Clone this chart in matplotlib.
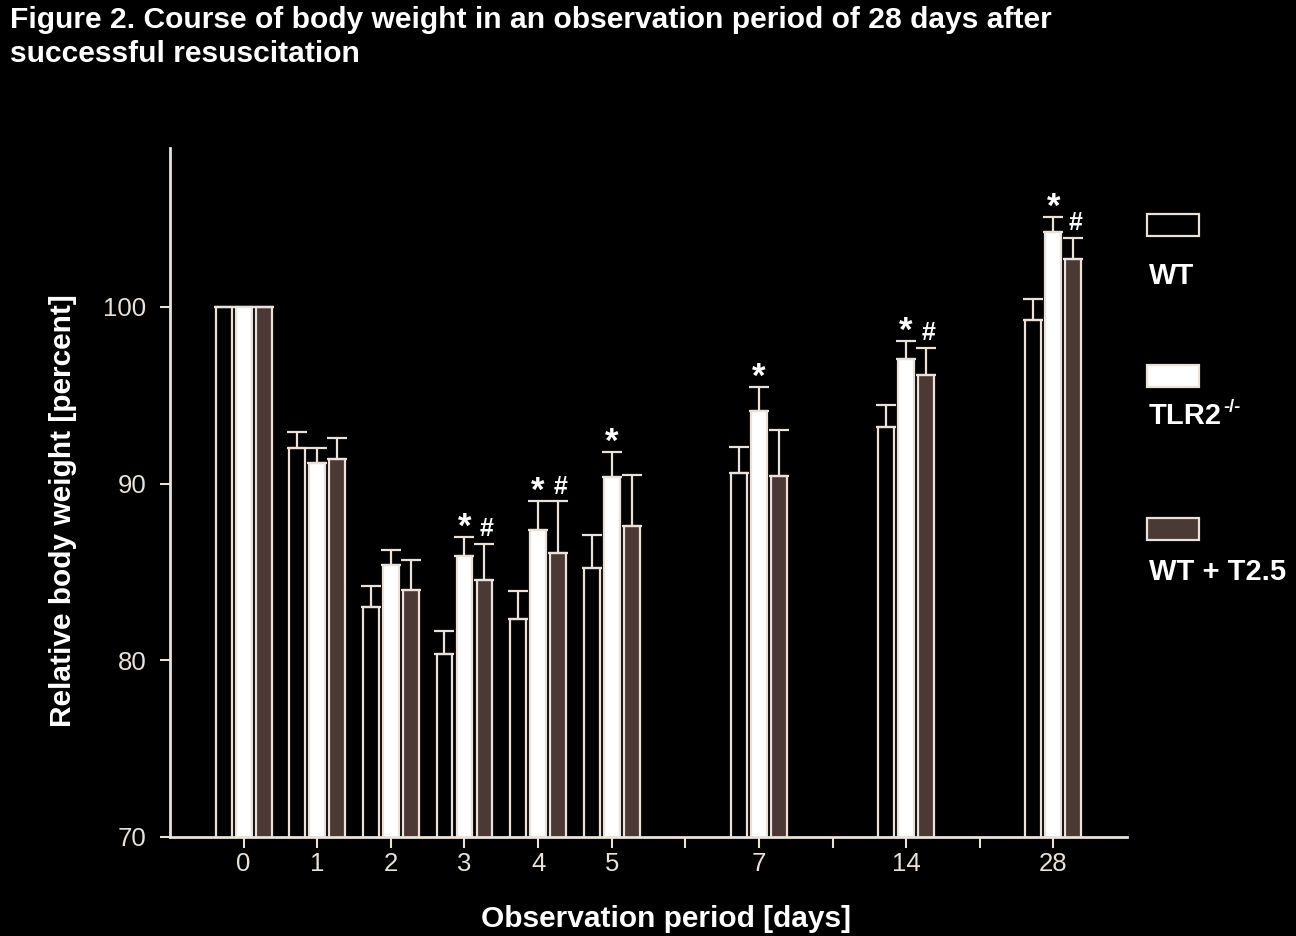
import numpy as np
import matplotlib
matplotlib.use("Agg")
import matplotlib.pyplot as plt
from matplotlib.patches import Rectangle

# data (relative body weight, percent)
days = ['0', '1', '2', '3', '4', '5', '7', '14', '28']
pos = [0, 1, 2, 3, 4, 5, 7, 9, 11]

wt = [100, 92.0, 83.0, 80.35, 82.35, 85.2, 90.6, 93.2, 99.25]
wt_err = [0, 0.95, 1.2, 1.3, 1.55, 1.9, 1.5, 1.25, 1.2]
tlr2 = [100, 91.15, 85.4, 85.9, 87.4, 90.4, 94.1, 97.05, 104.25]
tlr2_err = [0, 0.85, 0.85, 1.1, 1.6, 1.4, 1.35, 1.05, 0.85]
t25 = [100, 91.4, 84.0, 84.55, 86.1, 87.6, 90.45, 96.15, 102.7]
t25_err = [0, 1.2, 1.7, 2.05, 2.9, 2.9, 2.6, 1.55, 1.2]

star_days = [3, 4, 5, 7, 14, 28]   # * over TLR2-/-
hash_days = [3, 4, 14, 28]         # # over WT + T2.5

fg = '#e9e1da'
brown = '#4b3936'
plt.rcParams['font.family'] = ['Liberation Sans', 'DejaVu Sans']

fig = plt.figure(figsize=(12.96, 9.36), dpi=100, facecolor='black')
ax = fig.add_axes([170/1296, 1-837/936, (1127-170)/1296, (837-148)/936])
ax.set_facecolor('black')

x = np.array(pos, dtype=float)
step = 0.272
width = 0.215
ekw = dict(ecolor=fg, elinewidth=1.6, capsize=7, capthick=1.6)
series = [(wt, wt_err, 'black'), (tlr2, tlr2_err, 'white'), (t25, t25_err, brown)]
for i, (vals, err, col) in enumerate(series):
    xs = x + (i - 1) * step
    ax.bar(xs, vals, width, color=col, edgecolor=fg, linewidth=1.6,
           yerr=[np.zeros(len(err)), err], error_kw=ekw, zorder=2)

for d in star_days:
    k = days.index(str(d))
    ax.annotate('*', (x[k], tlr2[k] + tlr2_err[k]), xytext=(0, -5),
                textcoords='offset points', ha='center', va='bottom',
                color='white', fontsize=25, fontweight='bold')
for d in hash_days:
    k = days.index(str(d))
    ax.annotate('#', (x[k] + step + 0.03, t25[k] + t25_err[k]), xytext=(0, 2),
                textcoords='offset points', ha='center', va='bottom',
                color='white', fontsize=18, fontweight='bold')

ax.set_xlim(-1, 12)
ax.set_ylim(70, 109)
ax.set_yticks([70, 80, 90, 100])
ax.set_xticks(range(0, 12))
ax.set_xticklabels([days[pos.index(p)] if p in pos else '' for p in range(0, 12)])
ax.tick_params(axis='y', colors=fg, labelsize=18.5, length=7, width=1.5, pad=10)
ax.tick_params(axis='x', colors=fg, labelsize=18.5, length=8, width=1.5, pad=3)
for s in ['top', 'right']:
    ax.spines[s].set_visible(False)
for s in ['left', 'bottom']:
    ax.spines[s].set_color(fg)
    ax.spines[s].set_linewidth(2)

fig.text(63/1296, 1-511/936, 'Relative body weight [percent]', rotation=90,
         ha='center', va='center', color='white', fontsize=21.5, fontweight='bold')
fig.text(666/1296, 1-919/936, 'Observation period [days]', ha='center',
         va='center', color='white', fontsize=21.5, fontweight='bold')

fig.text(10/1296, 1-28/936,
         'Figure 2. Course of body weight in an observation period of 28 days after',
         ha='left', va='baseline', color='white', fontsize=21.6, fontweight='bold')
fig.text(10/1296, 1-62/936, 'successful resuscitation',
         ha='left', va='baseline', color='white', fontsize=21.6, fontweight='bold')

# legend drawn by hand on the right
leg = [('WT', 'black', 214, 284), ('TLR2', 'white', 365, 424),
       ('WT + T2.5', brown, 518, 580)]
for lab, col, ytop, ybase in leg:
    fig.add_artist(Rectangle((1147/1296, 1-(ytop+22)/936), 52/1296, 22/936,
                             transform=fig.transFigure, facecolor=col,
                             edgecolor=fg, linewidth=1.6))
    t = fig.text(1149/1296, 1-ybase/936, lab, ha='left', va='baseline',
                 color='white', fontsize=21, fontweight='bold')
    if lab == 'TLR2':
        # small superscript -/- after the label
        ax.annotate('-/-', xy=(1, 1), xycoords=t, xytext=(1, 2),
                    textcoords='offset points', ha='left', va='top',
                    color='white', fontsize=13, fontweight='bold',
                    annotation_clip=False)

fig.savefig('out.png', dpi=100, facecolor='black')
